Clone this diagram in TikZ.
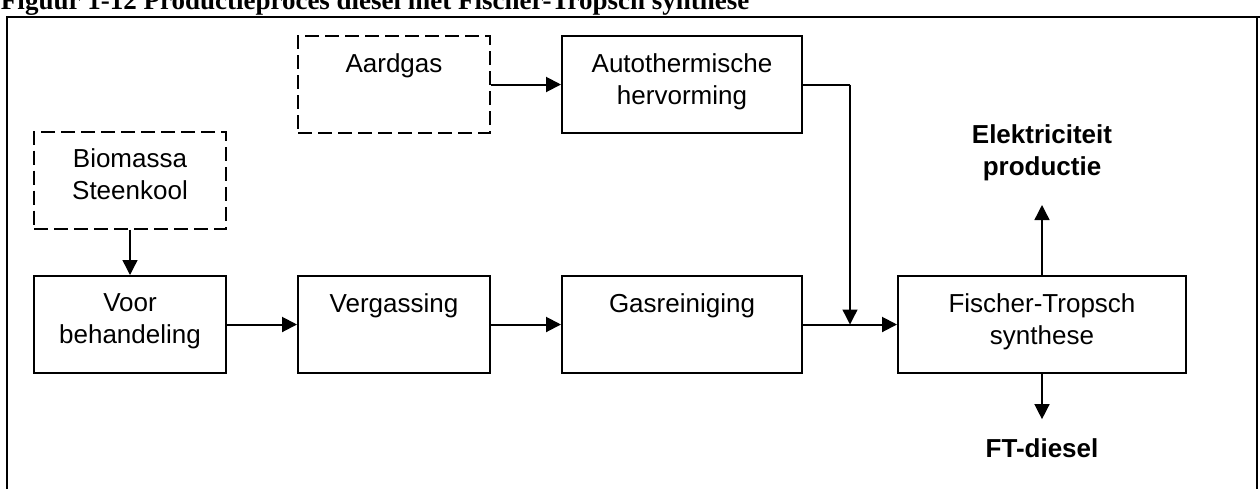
\documentclass[tikz,border=0pt]{standalone}
\usepackage{fontspec}
\setsansfont{Liberation Sans}
\newfontfamily\titlefont{Liberation Serif}
\usetikzlibrary{arrows.meta}

\begin{document}
\begin{tikzpicture}[x=0.5pt, y=-0.5pt, line width=1pt,
    box/.style={draw, minimum height=48.5pt, inner sep=0pt},
    srcbox/.style={box, dash pattern=on 7pt off 3pt},
    boxtext/.style={anchor=north, align=center, inner sep=0pt, font=\sffamily\fontsize{13}{16}\selectfont},
    outtext/.style={align=center, inner sep=0pt, font=\sffamily\bfseries\fontsize{13}{16}\selectfont},
    flow/.style={-{Triangle[length=7.5pt, width=7.5pt]}, line width=1pt},
    thinflow/.style={flow, line width=0.7pt}]
    \clip (0, 0) rectangle (1260, 489);

    % title and frame
    \node[anchor=base west, inner sep=0pt, font=\titlefont\bfseries\fontsize{13.5}{16}\selectfont] (title) at (0, 9.5) {Figuur 1-12 Productieproces diesel met Fischer-Tropsch synthese};
    \draw (7, 489) -- (7, 17) -- (1260, 17);
    \draw (1257, 17) -- (1257, 489);

    % draw source boxes
    \node[srcbox, minimum width=96pt] (bio) at (130, 180) {};
    \node[srcbox, minimum width=96pt] (aard) at (394, 84.5) {};

    % draw process boxes
    \node[box, minimum width=96pt] (voor) at (130, 324.5) {};
    \node[box, minimum width=96pt] (verg) at (394, 324.5) {};
    \node[box, minimum width=120pt] (gas) at (682, 324.5) {};
    \node[box, minimum width=120pt] (auto) at (682, 84.5) {};
    \node[box, minimum width=144pt] (ft) at (1042, 324.5) {};

    % box texts
    \node[boxtext] (biotxt) at ([yshift=-8.75pt]bio.north) {Biomassa\\Steenkool};
    \node[boxtext] (aardtxt) at ([yshift=-8.75pt]aard.north) {Aardgas};
    \node[boxtext] (voortxt) at ([yshift=-8.75pt]voor.north) {Voor\\behandeling};
    \node[boxtext] (vergtxt) at ([yshift=-8.75pt]verg.north) {Vergassing};
    \node[boxtext] (gastxt) at ([yshift=-8.75pt]gas.north) {Gasreiniging};
    \node[boxtext] (autotxt) at ([yshift=-8.75pt]auto.north) {Autothermische\\hervorming};
    \node[boxtext] (fttxt) at ([yshift=-8.75pt]ft.north) {Fischer-Tropsch\\synthese};

    % products
    \node[outtext, anchor=south] (elek) at (1042, 182) {Elektriciteit\\productie};
    \node[outtext, anchor=base] (diesel) at (1042, 457.5) {FT-diesel};

    % draw flows
    \coordinate (bend) at (850, 84.5);
    \coordinate (join) at (850, 324.5);
    \draw[thinflow] (bio) -- (voor);
    \draw[flow] (aard) -- (auto);
    \draw[flow] (voor) -- (verg);
    \draw[flow] (verg) -- (gas);
    \draw[flow] (gas) -- (ft);
    \draw (auto.east) -- (bend);
    \draw[thinflow] (bend) -- (join);
    \draw[thinflow, shorten >=11.5pt] (ft) -- (elek);
    \draw[thinflow, shorten >=9.25pt] (ft) -- (diesel);
\end{tikzpicture}
\end{document}
